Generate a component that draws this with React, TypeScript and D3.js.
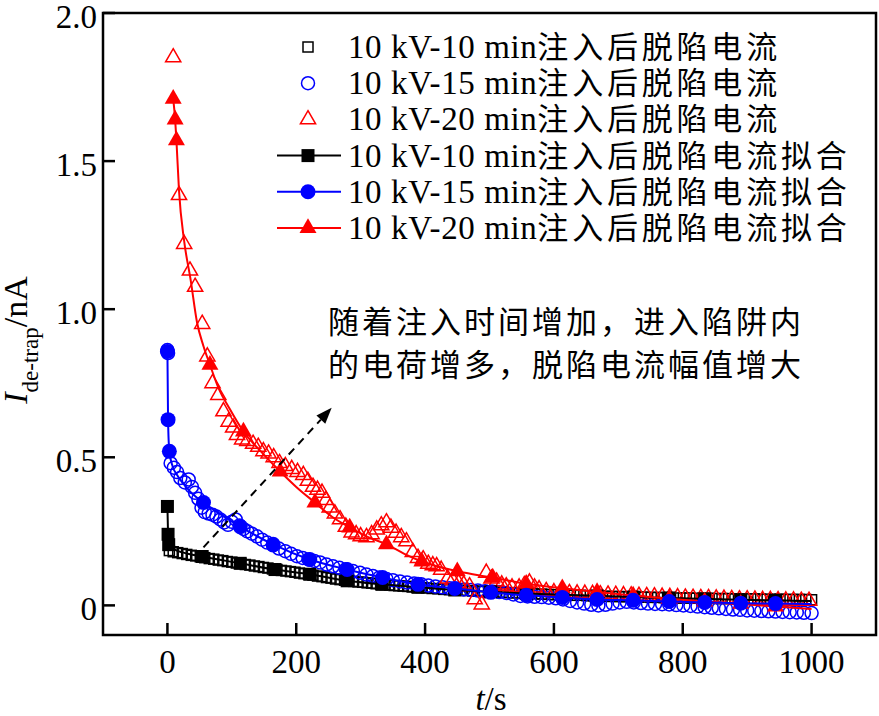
import React from 'react';
import * as d3 from 'd3';

// ---------- data ----------
const xTicks = [0, 200, 400, 600, 800, 1000];
const yTicks = [0, 0.5, 1.0, 1.5, 2.0];
const yTickLabels = ['0', '0.5', '1.0', '1.5', '2.0'];

// raw de-trapping current (open markers) [t (s), I (nA)]
const raw10: [number, number][] = [
  [3,0.185],[9,0.181],[16,0.178],[23,0.175],[30,0.172],[37,0.169],[44,0.167],[51,0.164],[58,0.161],[65,0.158],
  [72,0.156],[79,0.153],[86,0.151],[93,0.148],[100,0.146],[107,0.143],[114,0.141],[121,0.138],[128,0.136],[135,0.133],
  [142,0.131],[149,0.128],[156,0.126],[163,0.123],[170,0.121],[177,0.118],[184,0.116],[191,0.114],[198,0.112],[205,0.109],
  [212,0.107],[219,0.105],[226,0.102],[233,0.099],[240,0.097],[247,0.094],[254,0.092],[261,0.089],[268,0.087],[275,0.085],
  [282,0.083],[289,0.081],[296,0.079],[303,0.078],[310,0.076],[317,0.075],[324,0.073],[331,0.071],[338,0.070],[345,0.069],
  [352,0.067],[359,0.066],[366,0.065],[373,0.064],[380,0.062],[387,0.061],[394,0.060],[402,0.059],[411,0.057],[420,0.056],
  [429,0.054],[438,0.053],[447,0.052],[456,0.051],[465,0.050],[474,0.049],[483,0.048],[492,0.047],[501,0.046],[511,0.045],
  [521,0.044],[531,0.043],[541,0.042],[551,0.041],[561,0.040],[571,0.039],[581,0.038],[591,0.037],[601,0.036],[611,0.036],
  [621,0.035],[631,0.034],[641,0.034],[651,0.033],[661,0.032],[671,0.032],[681,0.031],[691,0.030],[701,0.030],[711,0.029],
  [721,0.029],[731,0.028],[741,0.028],[751,0.027],[761,0.027],[771,0.026],[781,0.026],[791,0.025],[801,0.025],[811,0.025],
  [821,0.024],[831,0.024],[841,0.024],[851,0.023],[861,0.023],[871,0.023],[881,0.022],[891,0.022],[901,0.022],[911,0.022],
  [921,0.021],[931,0.021],[941,0.021],[951,0.021],[961,0.020],[971,0.020],[981,0.020],[991,0.020],[1000,0.019]
];

const raw15: [number, number][] = [
  [0,0.862],[1,0.852],[5,0.48],[10,0.465],[15,0.45],[20,0.43],[27,0.415],[33,0.425],[38,0.40],[43,0.38],
  [48,0.36],[53,0.33],[58,0.315],[64,0.31],[70,0.306],[76,0.30],[82,0.29],[88,0.28],[94,0.272],[100,0.282],
  [106,0.29],[112,0.27],[118,0.258],[124,0.25],[131,0.242],[139,0.233],[147,0.222],[155,0.212],[164,0.203],[173,0.192],
  [183,0.183],[192,0.174],[201,0.166],[210,0.16],[219,0.155],[228,0.15],[237,0.145],[247,0.138],[257,0.132],[267,0.127],
  [277,0.122],[288,0.116],[299,0.11],[309,0.104],[319,0.099],[329,0.094],[340,0.089],[350,0.085],[361,0.081],[372,0.077],
  [383,0.074],[394,0.071],[405,0.067],[416,0.064],[427,0.061],[438,0.058],[449,0.056],[460,0.054],[471,0.052],[482,0.05],
  [493,0.048],[504,0.047],[515,0.045],[526,0.042],[537,0.037],[548,0.032],[559,0.03],[570,0.029],[581,0.028],[592,0.026],
  [603,0.024],[614,0.02],[625,0.015],[636,0.01],[647,0.006],[658,0.002],[669,0.0],[680,0.002],[691,0.006],[702,0.01],
  [713,0.012],[724,0.01],[735,0.008],[746,0.006],[757,0.005],[768,0.004],[779,0.003],[790,0.001],[801,0.0],[812,-0.002],
  [823,-0.004],[834,-0.006],[845,-0.008],[856,-0.01],[867,-0.012],[878,-0.014],[889,-0.015],[900,-0.017],[911,-0.018],[922,-0.019],
  [933,-0.02],[944,-0.021],[955,-0.022],[966,-0.023],[977,-0.024],[988,-0.025],[1000,-0.026]
];

const raw20: [number, number][] = [
  [9,1.85],[18,1.385],[26,1.22],[35,1.13],[43,1.075],[54,0.95],[62,0.84],[70,0.75],[79,0.71],[87,0.655],
  [95,0.62],[102,0.60],[108,0.575],[116,0.56],[124,0.555],[133,0.545],[141,0.535],[149,0.52],[157,0.512],[165,0.50],
  [174,0.48],[183,0.47],[193,0.46],[202,0.45],[211,0.44],[218,0.42],[226,0.40],[233,0.39],[240,0.38],[246,0.355],
  [252,0.33],[260,0.31],[268,0.29],[277,0.265],[286,0.246],[293,0.24],[300,0.233],[309,0.23],[317,0.24],[325,0.256],
  [332,0.27],[340,0.28],[347,0.262],[355,0.245],[363,0.23],[371,0.216],[381,0.18],[389,0.16],[397,0.155],[405,0.14],
  [412,0.135],[418,0.132],[425,0.12],[435,0.09],[443,0.085],[452,0.075],[460,0.07],[469,0.064],[477,0.02],[488,0.003],
  [495,0.11],[503,0.09],[511,0.08],[519,0.07],[526,0.064],[535,0.06],[546,0.06],[554,0.068],[562,0.077],[570,0.06],
  [577,0.054],[588,0.048],[600,0.044],[612,0.042],[624,0.041],[636,0.040],[648,0.039],[660,0.038],[672,0.037],[684,0.036],
  [696,0.035],[708,0.034],[720,0.033],[732,0.032],[744,0.031],[756,0.030],[768,0.029],[780,0.028],[792,0.027],[804,0.026],
  [816,0.025],[828,0.024],[840,0.024],[852,0.023],[864,0.022],[876,0.021],[888,0.020],[900,0.020],[912,0.019],[924,0.018],
  [936,0.018],[948,0.017],[960,0.016],[972,0.016],[984,0.015],[996,0.015]
];

// fitted curves (line points) and their marker points
const fit10Line: [number, number][] = [
  [0,0.334],[1,0.24],[2,0.205],[10,0.19],[25,0.178],[54,0.165],[113,0.142],[167,0.121],[221,0.105],[279,0.083],
  [333,0.071],[389,0.061],[446,0.052],[502,0.046],[557,0.040],[613,0.036],[667,0.032],[723,0.028],[779,0.025],[834,0.022],
  [890,0.019],[944,0.017],[1000,0.015]
];
const fit10Marks: [number, number][] = [
  [0,0.334],[1,0.24],[2,0.205],[54,0.165],[113,0.142],[167,0.121],[221,0.105],[279,0.083],[333,0.071],[389,0.061],
  [446,0.052],[502,0.046],[557,0.040],[613,0.036],[667,0.032],[723,0.028],[779,0.025],[834,0.022],[890,0.019],[944,0.017]
];
const fit15Line: [number, number][] = [
  [0,0.857],[1,0.627],[3,0.52],[8,0.47],[15,0.44],[25,0.41],[35,0.385],[45,0.365],[56,0.347],[113,0.266],
  [164,0.206],[221,0.155],[279,0.121],[334,0.094],[389,0.071],[446,0.057],[502,0.044],[557,0.034],[613,0.027],[667,0.020],
  [723,0.017],[779,0.013],[834,0.010],[890,0.007],[944,0.006],[1000,0.005]
];
const fit15Marks: [number, number][] = [
  [0,0.857],[1,0.627],[3,0.52],[56,0.347],[113,0.266],[164,0.206],[221,0.155],[279,0.121],[334,0.094],[389,0.071],
  [446,0.057],[502,0.044],[557,0.034],[613,0.027],[667,0.020],[723,0.017],[779,0.013],[834,0.010],[890,0.007],[944,0.006]
];
const fit20Line: [number, number][] = [
  [9,1.71],[12,1.64],[14,1.57],[18,1.40],[26,1.23],[36,1.10],[46,0.955],[56,0.875],[66,0.8125],[80,0.73],
  [95,0.67],[118,0.587],[145,0.52],[175,0.452],[200,0.40],[229,0.347],[255,0.30],[283,0.263],[310,0.232],[340,0.206],
  [367,0.175],[395,0.148],[450,0.115],[505,0.094],[557,0.073],[613,0.058],[667,0.045],[723,0.033],[779,0.022],[834,0.013],
  [890,0.005],[944,-0.004],[1000,-0.012]
];
const fit20Marks: [number, number][] = [
  [9,1.71],[12,1.64],[14,1.57],[66,0.8125],[118,0.587],[175,0.452],[229,0.347],[283,0.263],[340,0.206],[395,0.148],
  [450,0.115],[505,0.094],[557,0.073],[613,0.058],[667,0.045],[723,0.033],[779,0.022],[834,0.013],[890,0.005],[944,-0.004]
];

const legendLatin = ['10 kV-10 min', '10 kV-15 min', '10 kV-20 min', '10 kV-10 min', '10 kV-15 min', '10 kV-20 min'];
const legendCJK = ['注入后脱陷电流', '注入后脱陷电流', '注入后脱陷电流', '注入后脱陷电流拟合', '注入后脱陷电流拟合', '注入后脱陷电流拟合'];
const annotationLines = ['随着注入时间增加，进入陷阱内', '的电荷增多，脱陷电流幅值增大'];
const arrowFrom: [number, number] = [56, 0.196];
const arrowTo: [number, number] = [255, 0.667];

// ---------- layout ----------
const W = 879, H = 716;
const L = 103, R = 876, T = 13, B = 635;
const x = d3.scaleLinear().domain([-100, 1100]).range([L, R]);
const y = d3.scaleLinear().domain([-0.1, 2.0]).range([B, T]);

const BLACK = '#000000', BLUE = '#0000ff', RED = '#ff0000';
const SERIF = '"Liberation Serif", "Times New Roman", serif';
const CJK = '"Noto Sans CJK SC", sans-serif';

const triOpen = d3.symbol().type(d3.symbolTriangle).size(100)() as string;
const triFilled = d3.symbol().type(d3.symbolTriangle).size(125)() as string;

const lineGen = d3.line<[number, number]>().x(d => x(d[0])).y(d => y(d[1])).curve(d3.curveMonotoneX);

type Kind = 'square' | 'circle' | 'triangle';

function Marker({ kind, cx, cy, color, filled }: { kind: Kind; cx: number; cy: number; color: string; filled: boolean }) {
  const fill = filled ? color : 'none';
  const sw = filled ? 0 : 1.5;
  if (kind === 'square') {
    const s = filled ? 13 : 10;
    return <rect x={cx - s / 2} y={cy - s / 2} width={s} height={s} fill={fill} stroke={color} strokeWidth={sw} />;
  }
  if (kind === 'circle') {
    return <circle cx={cx} cy={cy} r={filled ? 7.5 : 6.5} fill={fill} stroke={color} strokeWidth={sw} />;
  }
  return <path d={filled ? triFilled : triOpen} transform={`translate(${cx},${cy})`} fill={fill} stroke={color} strokeWidth={sw} />;
}

export default function App() {
  const rawSeries: { data: [number, number][]; kind: Kind; color: string }[] = [
    { data: raw10, kind: 'square', color: BLACK },
    { data: raw15, kind: 'circle', color: BLUE },
    { data: raw20, kind: 'triangle', color: RED },
  ];
  const fitSeries: { line: [number, number][]; marks: [number, number][]; kind: Kind; color: string }[] = [
    { line: fit10Line, marks: fit10Marks, kind: 'square', color: BLACK },
    { line: fit20Line, marks: fit20Marks, kind: 'triangle', color: RED },
    { line: fit15Line, marks: fit15Marks, kind: 'circle', color: BLUE },
  ];
  const legendKinds: Kind[] = ['square', 'circle', 'triangle', 'square', 'circle', 'triangle'];
  const legendColors = [BLACK, BLUE, RED, BLACK, BLUE, RED];

  // arrow geometry
  const ax1 = x(arrowFrom[0]), ay1 = y(arrowFrom[1]);
  const ax2 = x(arrowTo[0]), ay2 = y(arrowTo[1]);
  const ang = Math.atan2(ay2 - ay1, ax2 - ax1);
  const headLen = 16, headW = 6;
  const bx = ax2 - headLen * Math.cos(ang), by = ay2 - headLen * Math.sin(ang);
  const head = [
    [ax2, ay2],
    [bx + headW * Math.sin(ang), by - headW * Math.cos(ang)],
    [bx - headW * Math.sin(ang), by + headW * Math.cos(ang)],
  ];

  return (
    <svg width={W} height={H} style={{ position: 'absolute', left: 0, top: 0, background: '#fff' }}>
      <rect x={0} y={0} width={W} height={H} fill="#fff" />
      <defs>
        <clipPath id="plot">
          <rect x={L} y={T} width={R - L} height={B - T} />
        </clipPath>
      </defs>

      <g clipPath="url(#plot)">
        {rawSeries.map((s, i) => (
          <g key={i}>
            {s.data.map((d, j) => (
              <Marker key={j} kind={s.kind} cx={x(d[0])} cy={y(d[1])} color={s.color} filled={false} />
            ))}
          </g>
        ))}
        {fitSeries.map((s, i) => (
          <g key={i}>
            <path d={lineGen(s.line) as string} fill="none" stroke={s.color} strokeWidth={2} />
            {s.marks.map((d, j) => (
              <Marker key={j} kind={s.kind} cx={x(d[0])} cy={y(d[1])} color={s.color} filled={true} />
            ))}
          </g>
        ))}
        {/* arrow */}
        <line x1={ax1} y1={ay1} x2={bx} y2={by} stroke="#000" strokeWidth={2} strokeDasharray="8,6" />
        <polygon points={head.map(p => p.join(',')).join(' ')} fill="#000" />
      </g>

      {/* frame */}
      <rect x={L} y={T} width={R - L} height={B - T} fill="none" stroke="#000" strokeWidth={2.5} />

      {/* x ticks */}
      {xTicks.map(t => (
        <g key={t}>
          <line x1={x(t)} x2={x(t)} y1={B} y2={B - 12} stroke="#000" strokeWidth={2.5} />
          <text x={x(t)} y={673} textAnchor="middle" fontFamily={SERIF} fontSize={33}>{t}</text>
        </g>
      ))}
      {/* y ticks */}
      {yTicks.map((t, i) => (
        <g key={t}>
          <line x1={L} x2={L + 12} y1={y(t)} y2={y(t)} stroke="#000" strokeWidth={2.5} />
          <text x={97} y={y(t) + 15} textAnchor="end" fontFamily={SERIF} fontSize={33}>{yTickLabels[i]}</text>
        </g>
      ))}

      {/* axis titles */}
      <text x={491} y={710} textAnchor="middle" fontFamily={SERIF} fontSize={33}>
        <tspan fontStyle="italic">t</tspan>/s
      </text>
      <text transform="translate(27,340) rotate(-90)" textAnchor="middle" fontFamily={SERIF} fontSize={34}>
        <tspan fontStyle="italic">I</tspan>
        <tspan fontSize={23} dy={11}>de-trap</tspan>
        <tspan dy={-11}>/nA</tspan>
      </text>

      {/* legend */}
      {legendLatin.map((lab, i) => {
        const cy = 47 + i * 36.2;
        const isFit = i >= 3;
        return (
          <g key={i}>
            {isFit && <line x1={277} x2={341} y1={cy} y2={cy} stroke={legendColors[i]} strokeWidth={2} />}
            <Marker kind={legendKinds[i]} cx={308} cy={cy} color={legendColors[i]} filled={isFit} />
            <text x={348} y={cy + 11} fontFamily={SERIF} fontSize={33}>
              <tspan letterSpacing={0.6}>{lab}</tspan>
              <tspan fontFamily={CJK} fontSize={31} letterSpacing={3.8}>{legendCJK[i]}</tspan>
            </text>
          </g>
        );
      })}

      {/* annotation */}
      {annotationLines.map((s, i) => (
        <text key={i} x={328} y={333 + i * 43} fontFamily={CJK} fontSize={31} letterSpacing={3}>{s}</text>
      ))}
    </svg>
  );
}
